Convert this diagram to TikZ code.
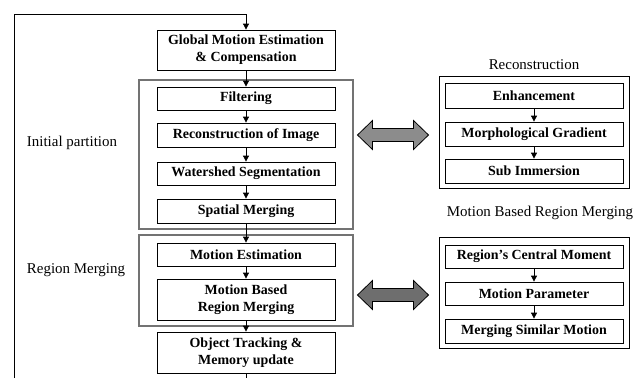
\documentclass[tikz,border=0pt]{standalone}
\usepackage{fontspec}
\setmainfont{Liberation Serif}
\usetikzlibrary{arrows.meta}

\begin{document}
\begin{tikzpicture}[x=1bp,y=-1bp,font=\fontsize{14}{17}\selectfont\bfseries,
  stage/.style={draw,line width=0.8bp,minimum width=178bp,inner sep=1bp,align=center},
  group/.style={draw=black!55,line width=1.8bp},
  frame/.style={draw,line width=1bp},
  flow/.style={-{Triangle[length=6bp,width=6bp]},line width=0.8bp},
  caption/.style={font=\fontsize{15}{17}\selectfont},
  swap/.pic={\draw[line width=0.8bp,fill=#1] (-35.5,0) -- ++(15,-14.5) -- ++(0,8) -- ++(41,0)
    -- ++(0,-8) -- ++(15,14.5) -- ++(-15,14.5) -- ++(0,-8) -- ++(-41,0) -- ++(0,8) -- cycle;}]

\useasboundingbox (0,0) rectangle (636,378);

% grouping frames
\draw[group] (139,80) rectangle (353,229);
\draw[group] (139,235) rectangle (353,326);
\draw[frame] (439,76) rectangle (629,188);
\draw[frame] (439,237) rectangle (629,348);

% main chain
\node[stage,minimum height=40bp] (glob) at (246,50) {Global Motion Estimation\\\& Compensation};
\node[stage,minimum height=23bp] (filt) at (246,98.5) {Filtering};
\node[stage,minimum height=24bp] (recon) at (246,135) {Reconstruction of Image};
\node[stage,minimum height=23bp] (water) at (246,173.5) {Watershed Segmentation};
\node[stage,minimum height=24bp] (spat) at (246,211) {Spatial Merging};
\node[stage,minimum height=23bp] (mest) at (246,254.5) {Motion Estimation};
\node[stage,minimum height=41bp] (mbrm) at (246,299.5) {Motion Based\\Region Merging};
\node[stage,minimum height=41bp] (track) at (246,352.5) {Object Tracking \&\\Memory update};

\draw[flow] (glob) -- (filt);
\draw[flow] (filt) -- (recon);
\draw[flow] (recon) -- (water);
\draw[flow] (water) -- (spat);
\draw[flow] (spat) -- (mest);
\draw[flow] (mest) -- (mbrm);
\draw[flow] (mbrm) -- (track);

% feedback loop
\coordinate (fb) at (14,378);
\coordinate (fbtop) at (246,14);
\coordinate (out) at (246,378);
\draw[flow] (fb) |- (fbtop) -- (glob);
\draw[line width=0.8bp] (track) -- (out);

\node[caption] (initlab) at (72,143) {Initial partition};
\node[caption] (mergelab) at (76,270) {Region Merging};

% reconstruction detail
\node[caption] (reclab) at (534,65) {Reconstruction};
\node[stage,minimum height=25bp] (enh) at (534,95.5) {Enhancement};
\node[stage,minimum height=24bp] (morph) at (534,134) {Morphological Gradient};
\node[stage,minimum height=24bp] (sub) at (534,171) {Sub Immersion};
\draw[flow] (enh) -- (morph);
\draw[flow] (morph) -- (sub);

% merging detail
\node[caption] (mrglab) at (540,213) {Motion Based Region Merging};
\node[stage,minimum height=23bp] (rcm) at (534,256.5) {Region’s Central Moment};
\node[stage,minimum height=23bp] (mpar) at (534,293.5) {Motion Parameter};
\node[stage,minimum height=24bp] (msim) at (534,331) {Merging Similar Motion};
\draw[flow] (rcm) -- (mpar);
\draw[flow] (mpar) -- (msim);

\pic at (393,135) {swap=black!45};
\pic at (393,295) {swap=black!57};

\end{tikzpicture}
\end{document}
